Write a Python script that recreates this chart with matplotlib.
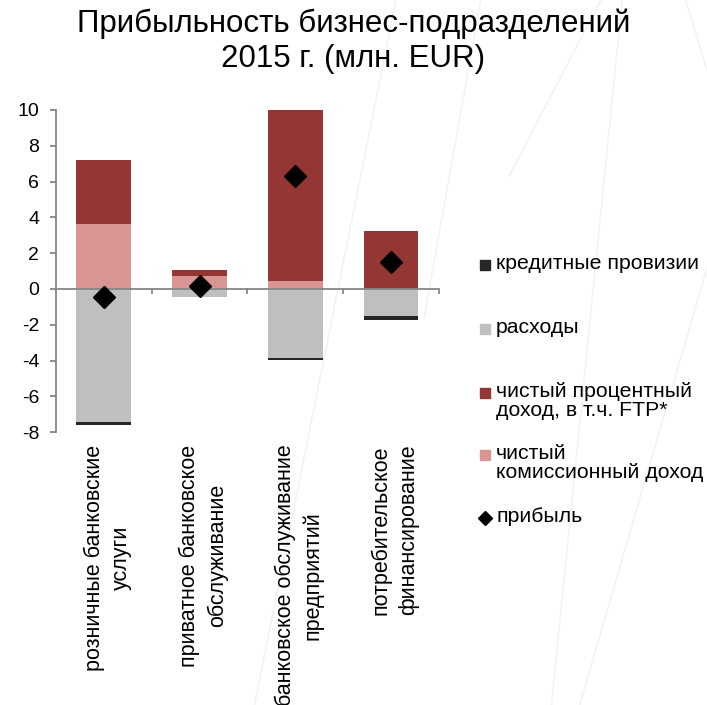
import numpy as np
import matplotlib.pyplot as plt
from matplotlib.lines import Line2D

plt.rcParams['font.family'] = ['Liberation Sans', 'DejaVu Sans']
plt.rcParams['axes.unicode_minus'] = False

categories = ['розничные банковские\nуслуги',
              'приватное банковское\nобслуживание',
              'банковское обслуживание\nпредприятий',
              'потребительское\nфинансирование']
commission = [3.64, 0.71, 0.46, 0.0]
interest = [3.55, 0.35, 9.84, 3.25]
expenses = [-7.42, -0.45, -3.83, -1.49]
provisions = [-0.20, -0.02, -0.13, -0.26]
profit = [-0.45, 0.19, 6.32, 1.52]

legend_labels = ['кредитные провизии', 'расходы', 'чистый процентный\nдоход, в т.ч. FTP*',
                 'чистый\nкомиссионный доход', 'прибыль']

c_prov = '#262626'
c_exp = '#bfbfbf'
c_int = '#943634'
c_com = '#d99594'

fig = plt.figure(figsize=(7.07, 7.05), dpi=100)
W, H = 707, 705

# faint decorative background lines
for x0, y0, x1, y1 in [(0.56, 1.0, 0.36, 0.0), (0.68, 1.0, 0.60, 0.55),
                       (0.72, 0.75, 0.85, 1.0), (0.88, 1.0, 0.78, 0.0),
                       (1.0, 0.62, 0.82, 0.0), (0.97, 1.0, 1.0, 0.9)]:
    fig.add_artist(Line2D([x0, x1], [y0, y1], color='#f3f3f3', lw=1.2, zorder=0))

ax = fig.add_axes([0.079, 0.387, 0.542, 0.457])
ax.patch.set_alpha(0)

x = np.arange(len(categories))
w = 0.57
ax.bar(x, commission, w, color=c_com, zorder=2)
ax.bar(x, interest, w, bottom=commission, color=c_int, zorder=2)
ax.bar(x, expenses, w, color=c_exp, zorder=2)
ax.bar(x, provisions, w, bottom=expenses, color=c_prov, zorder=2)
ax.plot(x, profit, 'D', color='black', ms=11, zorder=3)

ax.set_xlim(-0.5, len(categories) - 0.5)
ax.set_ylim(-8, 10)
ax.set_yticks(range(-8, 11, 2))
ax.tick_params(axis='y', labelsize=14, color='#868686', length=4, width=1.3, pad=8)

for s in ['top', 'right', 'bottom']:
    ax.spines[s].set_visible(False)
ax.spines['left'].set_color('#868686')
ax.spines['left'].set_linewidth(1.3)
ax.axhline(0, color='#868686', lw=1.3, zorder=2.5)
for b in np.arange(0.5, len(categories), 1):
    ax.plot([b, b], [0, -0.25], color='#868686', lw=1.3, clip_on=False, zorder=2.5)

ax.set_xticks([])
for xi, name in zip(x, categories):
    ax.text(xi + 0.04, -8.7, name, rotation=90, ha='center', va='top',
            multialignment='center', fontsize=15.5, linespacing=1.4)

fig.suptitle('Прибыльность бизнес-подразделений\n2015 г. (млн. EUR)',
             fontsize=22.5, y=0.988, linespacing=1.2)

# legend drawn by hand: Excel puts the entries at equal steps
handles = [('s', c_prov, 7.5), ('s', c_exp, 7.5), ('s', c_int, 7.5), ('s', c_com, 7.5),
           ('D', 'black', 7)]
row_px = [265, 329, 393, 455, 518]
for (mk, col, ms), label, py in zip(handles, legend_labels, row_px):
    yc = 1 - py / H
    fig.add_artist(Line2D([485 / W], [yc], marker=mk, color=col, ms=ms, ls='none'))
    fig.text(496 / W, 1 - (py - 11) / H, label, fontsize=15.3, va='top', ha='left',
             linespacing=1.0)

fig.savefig('out.png', dpi=100)
